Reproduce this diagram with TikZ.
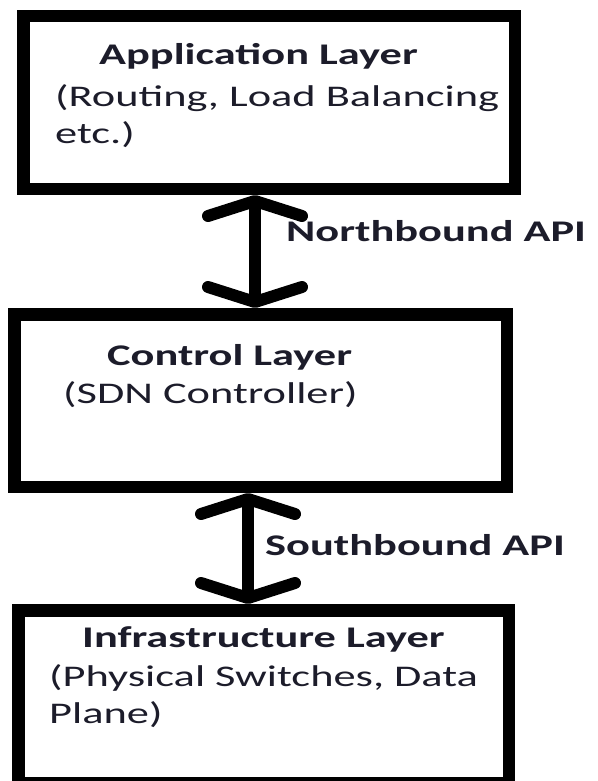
\documentclass[tikz,border=0pt]{standalone}
\usepackage{fontspec}
\usepackage{xcolor}
\usepackage{tikz}
\usetikzlibrary{positioning, arrows.meta}
\newfontfamily\layerfont{Carlito}[FakeStretch=1.48]
\definecolor{ink}{RGB}{28,28,42}

\begin{document}
\begin{tikzpicture}[x=1pt, y=-1pt,
  every node/.style={inner sep=0pt},
  layer/.style={draw, line width=12.5pt, minimum height=172.5pt},
  ttl/.style={anchor=base west, color=ink,
              font=\layerfont\fontsize{30}{37}\selectfont\bfseries},
  desc/.style={anchor=base west, align=left, color=ink,
               font=\layerfont\fontsize{30}{37}\selectfont},
  barb/.tip={Straight Barb[round, length=15pt, width=94pt]},
  biarrow/.style={barb-barb, line width=12pt, line cap=round}]
\useasboundingbox (0,0) rectangle (597,781);
\node[layer, minimum width=491.5pt] (app) at (269,102.5) {};
\node[layer, minimum width=492.5pt] (ctrl) at (260.5,400.5) {};
\node[layer, minimum width=490.5pt] (infra) at (263.5,696.5) {};

\node[ttl] (apptitle) at (99,65) {Application Layer};
\node[desc] (appdesc) at (55,143) {(Routing, Load Balancing\\etc.)};
\node[ttl] (ctrltitle) at (107,365) {Control Layer};
\node[desc] (ctrldesc) at (63,403) {(SDN Controller)};
\node[ttl] (infratitle) at (82,647) {Infrastructure Layer};
\node[desc] (infradesc) at (49,723) {(Physical Switches, Data\\Plane)};

\coordinate (nbx) at (255,0);
\coordinate (sbx) at (248,0);
\draw[biarrow] (nbx |- app.south) -- (nbx |- ctrl.north);
\draw[biarrow] (sbx |- ctrl.south) -- (sbx |- infra.north);
\node[ttl] (nbapi) at (286,241) {Northbound API};
\node[ttl] (sbapi) at (265,555) {Southbound API};
\end{tikzpicture}
\end{document}
